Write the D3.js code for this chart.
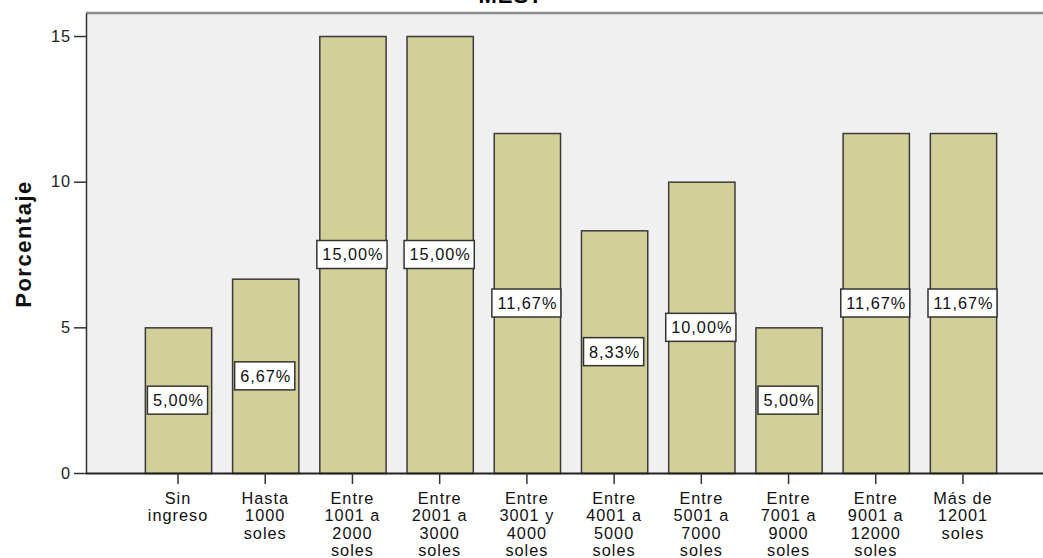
<!DOCTYPE html>
<html>
<head>
<meta charset="utf-8">
<script src="https://cdn.jsdelivr.net/npm/d3@7"></script>
<style>
  body { margin: 0; background: #fff; }
  svg text { font-family: "Liberation Sans", Arial, sans-serif; }
</style>
</head>
<body>
<svg id="chart"></svg>
<script>
// data
const categories = [
  ["Sin", "ingreso"],
  ["Hasta", "1000", "soles"],
  ["Entre", "1001 a", "2000", "soles"],
  ["Entre", "2001 a", "3000", "soles"],
  ["Entre", "3001 y", "4000", "soles"],
  ["Entre", "4001 a", "5000", "soles"],
  ["Entre", "5001 a", "7000", "soles"],
  ["Entre", "7001 a", "9000", "soles"],
  ["Entre", "9001 a", "12000", "soles"],
  ["Más de", "12001", "soles"]
];
const percents = [5.00, 6.67, 15.00, 15.00, 11.67, 8.33, 10.00, 5.00, 11.67, 11.67];
const yTicks = [0, 5, 10, 15];
const title = "MES?";
const yTitle = "Porcentaje";

const W = 1043, H = 558;
const plot = { left: 86, top: 13, bottom: 473, right: 1060 };

const svg = d3.select("#chart").attr("width", W).attr("height", H);

const keys = categories.map((c, i) => i);

// scales
const x = d3.scaleBand()
  .domain(keys)
  .range([134.4, 1006.6])
  .paddingInner(0.24)
  .paddingOuter(0.12);

const y = d3.scaleLinear()
  .domain([0, 15.79])
  .range([plot.bottom, plot.top]);

// title (cut off at the top)
svg.append("text")
  .attr("x", 511)
  .attr("y", 3)
  .attr("text-anchor", "middle")
  .attr("font-size", 22)
  .attr("font-weight", "bold")
  .attr("letter-spacing", 1)
  .attr("fill", "#000")
  .text(title);

// plot background + frame
svg.append("rect")
  .attr("x", plot.left)
  .attr("y", plot.top)
  .attr("width", plot.right - plot.left)
  .attr("height", plot.bottom - plot.top)
  .attr("fill", "#f0f0f0");

svg.append("line")
  .attr("x1", plot.left).attr("x2", plot.right)
  .attr("y1", plot.top).attr("y2", plot.top)
  .attr("stroke", "#8a8a8a").attr("stroke-width", 2.5);

// bars
const bars = svg.append("g");
bars.selectAll("rect")
  .data(percents)
  .enter()
  .append("rect")
    .attr("x", (d, i) => x(i) + 0.5)
    .attr("y", d => y(d) + 0.5)
    .attr("width", x.bandwidth())
    .attr("height", d => y(0) - y(d))
    .attr("fill", "#d3cf98")
    .attr("stroke", "#3a3a3a")
    .attr("stroke-width", 1.5);

// value labels in the middle of each bar
const fmt = d => d.toFixed(2).replace(".", ",") + "%";
const labels = svg.append("g");
percents.forEach((d, i) => {
  const cx = x(i) + x.bandwidth() / 2;
  const cy = (y(d) + y(0)) / 2;
  const g = labels.append("g").attr("transform", `translate(${cx},${cy})`);
  const t = g.append("text")
    .attr("text-anchor", "middle")
    .attr("dy", "0.36em")
    .attr("font-size", 16.3)
    .attr("letter-spacing", 1)
    .attr("fill", "#111")
    .text(fmt(d));
  const bw = t.node().getComputedTextLength() + 9;
  g.insert("rect", "text")
    .attr("x", -bw / 2 - 0.5)
    .attr("y", -14)
    .attr("width", bw)
    .attr("height", 28)
    .attr("fill", "#fff")
    .attr("stroke", "#333")
    .attr("stroke-width", 1.5);
  t.attr("x", 0.5);
});

// y axis
const yAxis = svg.append("g")
  .attr("transform", `translate(${plot.left},0)`)
  .call(d3.axisLeft(y).tickValues(yTicks).tickSize(12).tickPadding(3).tickSizeOuter(0));
yAxis.select(".domain").attr("stroke", "#333").attr("stroke-width", 1.5);
yAxis.selectAll(".tick line").attr("stroke", "#333").attr("stroke-width", 1.5);
yAxis.selectAll(".tick text")
  .attr("font-size", 16.3)
  .attr("letter-spacing", 1)
  .attr("fill", "#222")
  .attr("font-family", "Liberation Sans, Arial, sans-serif");

// x axis
const xAxis = svg.append("g")
  .attr("transform", `translate(0,${plot.bottom})`)
  .call(d3.axisBottom(x).tickSize(11).tickSizeOuter(0).tickFormat(""));
xAxis.select(".domain")
  .attr("d", `M${plot.left},0.5H${plot.right}`)
  .attr("stroke", "#222").attr("stroke-width", 2);
xAxis.selectAll(".tick line").attr("stroke", "#333").attr("stroke-width", 1.5);
xAxis.selectAll(".tick text").remove();
xAxis.selectAll(".tick").each(function (d) {
  const t = d3.select(this).append("text")
    .attr("text-anchor", "middle")
    .attr("y", 30.5)
    .attr("font-size", 16.3)
    .attr("letter-spacing", 1)
    .attr("fill", "#111")
    .attr("font-family", "Liberation Sans, Arial, sans-serif");
  categories[d].forEach((line, j) => {
    t.append("tspan").attr("x", 0).attr("dy", j === 0 ? 0 : 17.5).text(line);
  });
});

// y axis title
svg.append("text")
  .attr("transform", `translate(31,244) rotate(-90)`)
  .attr("text-anchor", "middle")
  .attr("font-size", 22)
  .attr("font-weight", "bold")
  .attr("letter-spacing", 1.5)
  .attr("fill", "#111")
  .text(yTitle);
</script>
</body>
</html>
